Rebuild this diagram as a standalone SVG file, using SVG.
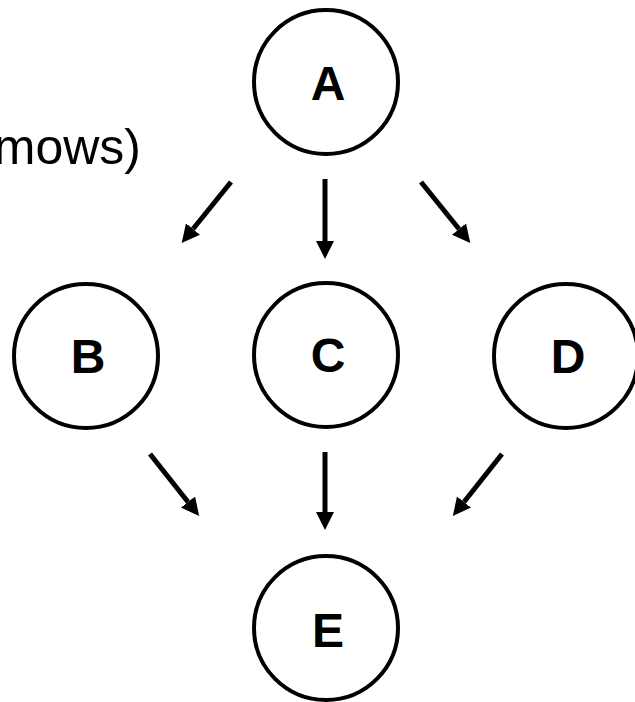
<svg xmlns="http://www.w3.org/2000/svg" width="635" height="702" viewBox="0 0 635 702">
  <style>
    .node circle { fill: #ffffff; stroke: #000000; stroke-width: 4; }
    .node text { font-family: "Liberation Sans", Arial, sans-serif; font-size: 48px; font-weight: bold; fill: #000000; text-anchor: middle; }
    .edge { stroke: #000000; stroke-width: 5; fill: none; marker-end: url(#head); }
    .caption { font-family: "Liberation Sans", Arial, sans-serif; font-size: 50px; fill: #000000; text-anchor: end; }
  </style>
  <defs>
    <marker id="head" markerUnits="userSpaceOnUse" markerWidth="19" markerHeight="19" refX="0" refY="9" orient="auto">
      <path d="M0,0 L18,9 L0,18 z" fill="#000000"/>
    </marker>
  </defs>
  <rect width="635" height="702" fill="#ffffff"/>

  <text class="caption" x="141" y="164">mows)</text>

  <g id="edges">
    <line class="edge" x1="231" y1="182" x2="193" y2="229"/>
    <line class="edge" x1="325" y1="179" x2="325" y2="241"/>
    <line class="edge" x1="421" y1="182" x2="459" y2="229"/>
    <line class="edge" x1="150" y1="454" x2="188" y2="502"/>
    <line class="edge" x1="325" y1="452" x2="325" y2="512"/>
    <line class="edge" x1="502" y1="454" x2="464" y2="502"/>
  </g>

  <g id="node-A" class="node">
    <circle cx="326" cy="82" r="72"/>
    <text x="328" y="100">A</text>
  </g>
  <g id="node-B" class="node">
    <circle cx="86" cy="356" r="72"/>
    <text x="88" y="373">B</text>
  </g>
  <g id="node-C" class="node">
    <circle cx="326" cy="355" r="72"/>
    <text x="328" y="372">C</text>
  </g>
  <g id="node-D" class="node">
    <circle cx="566" cy="356" r="72"/>
    <text x="568" y="373">D</text>
  </g>
  <g id="node-E" class="node">
    <circle cx="326" cy="628" r="72"/>
    <text x="328" y="647">E</text>
  </g>
</svg>
